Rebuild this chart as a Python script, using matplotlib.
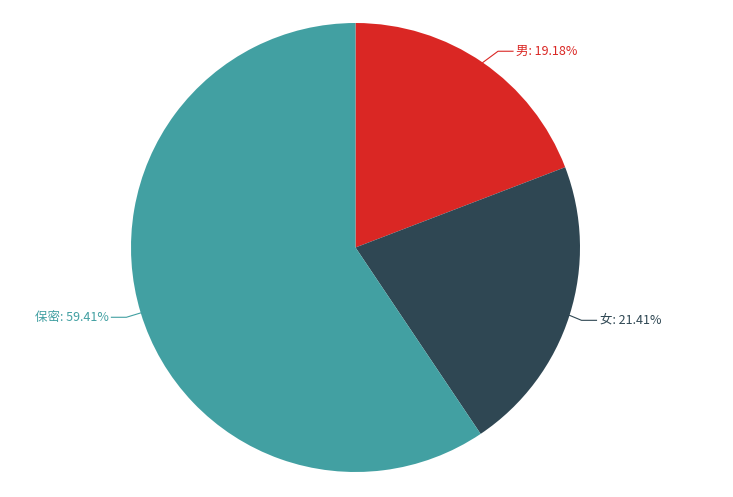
import numpy as np
import matplotlib
matplotlib.use('Agg')
import matplotlib.pyplot as plt

plt.rcParams['font.family'] = ['Noto Sans CJK SC', 'DejaVu Sans']

labels = ['男', '女', '保密']
values = [19.18, 21.41, 59.41]
colors = ['#da2724', '#2f4753', '#42a0a2']

# label line layout (first segment length, direction tweak in degrees)
line_len = [19, 13, 15]
line_turn = [-19, -5, 0]

W, H = 733, 497
cx, cy, r = 355.5, H - 247.5, 224.5

fig = plt.figure(figsize=(W / 100, H / 100), dpi=100)
ax = fig.add_axes([0, 0, 1, 1])

wedges, _ = ax.pie(values, colors=colors, startangle=90, counterclock=False,
                   center=(cx, cy), radius=r, frame=True,
                   wedgeprops=dict(linewidth=0))
ax.set_xlim(0, W)
ax.set_ylim(0, H)
ax.set_aspect('equal')
ax.axis('off')

for w, lab, val, col, ln, tw in zip(wedges, labels, values, colors, line_len, line_turn):
    ang = np.deg2rad((w.theta1 + w.theta2) / 2)
    x0, y0 = cx + r * np.cos(ang), cy + r * np.sin(ang)
    d = ang + np.deg2rad(tw)
    x1, y1 = x0 + ln * np.cos(d), y0 + ln * np.sin(d)
    sign = 1 if np.cos(ang) >= 0 else -1
    x2 = x1 + sign * 15
    ax.plot([x0, x1, x2], [y0, y1, y1], color=col, lw=0.8)
    ax.text(x2 + sign * 3, y1, '%s: %.2f%%' % (lab, val), color=col, fontsize=9,
            ha='left' if sign > 0 else 'right', va='center')

fig.savefig('out.png', dpi=100)
